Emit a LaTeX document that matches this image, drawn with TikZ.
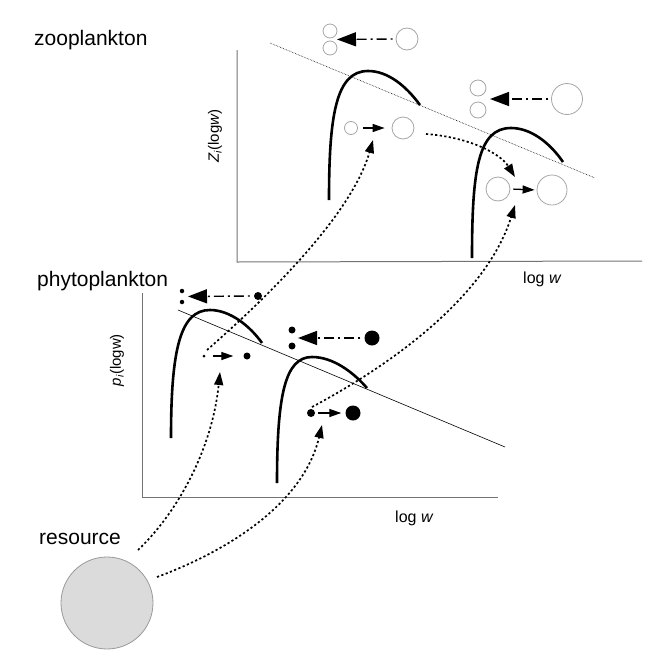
\documentclass[tikz,border=0pt]{standalone}
\usepackage{fontspec}
\setmainfont{Liberation Sans}
\usetikzlibrary{arrows.meta,calc}
\begin{document}
\begin{tikzpicture}[x=1pt,y=-1pt,
  axis/.style={draw=black!55, line width=1pt},
  hump/.style={line width=2.6pt},
  trend/.style={line width=0.6pt},
  zcirc/.style={circle, draw=black!35, fill=white, line width=0.8pt, inner sep=0pt},
  pdot/.style={circle, fill=black, inner sep=0pt},
  feed/.style={line width=1.7pt, dash pattern=on 2.2pt off 2.4pt, -{Triangle[length=13pt,width=9pt]}},
  growarrow/.style={line width=1.3pt, -{Triangle[length=12pt,width=8pt]}},
  repro/.style={line width=1.4pt, dash pattern=on 2pt off 4pt on 10pt off 4pt, -{Triangle[length=19pt,width=14pt]}},
  title/.style={font=\fontsize{21}{25}\selectfont, anchor=base west, inner sep=0pt},
  axlab/.style={font=\fontsize{16}{19}\selectfont, anchor=base west, inner sep=0pt},
  ylab/.style={font=\fontsize{15}{18}\selectfont, rotate=90, inner sep=0pt}
]
\useasboundingbox (0,0) rectangle (654,659);

% ---------------- zooplankton panel ----------------
\node[title] (ztitle) at (34,45) {zooplankton};
\coordinate (zo) at (237,262);
\coordinate (zy) at (237,50);
\coordinate (zx) at (642,261);
\draw[axis] (zy) -- (zo) -- (zx);
\node[axlab] (zxlab) at (523,283) {log {\itshape w}};
\node[ylab] (zylab) at (215,136) {{\itshape Z}\textsubscript{\itshape i}(log{\itshape w})};
\coordinate (zt1) at (270,43);
\coordinate (zt2) at (595,178);
\draw[trend, densely dotted] (zt1) -- (zt2);
\draw[hump] (329,200) .. controls (329,115) and (336,71) .. (368,71)
                      .. controls (388,71) and (406,86) .. (420,105);
\draw[hump] (472,258) .. controls (472,170) and (478,128) .. (511,128)
                      .. controls (531,128) and (550,143) .. (563,162);

% reproduction groups (zoo)
\node[zcirc, minimum size=14pt] (zs1) at (330,31) {};
\node[zcirc, minimum size=14pt] (zs2) at (330,48) {};
\node[zcirc, minimum size=22pt] (zb1) at (407,39) {};
\draw[repro, shorten >=7pt] ([xshift=-3pt]zb1.west) -- ($(zs1)!.5!(zs2)$);

\node[zcirc, minimum size=16pt] (zs3) at (478,88) {};
\node[zcirc, minimum size=16pt] (zs4) at (478,110) {};
\node[zcirc, minimum size=31pt] (zb2) at (567,99) {};
\draw[repro, shorten >=12pt] ([xshift=-3pt]zb2.west) -- ($(zs3)!.5!(zs4)$);

% growth groups (zoo)
\node[zcirc, minimum size=13pt] (zg1) at (351,128) {};
\node[zcirc, minimum size=22pt] (zG1) at (403,128) {};
\draw[growarrow, shorten <=5pt, shorten >=7pt] (zg1.east) -- (zG1.west);

\node[zcirc, minimum size=24pt] (zg2) at (498,189) {};
\node[zcirc, minimum size=30pt] (zG2) at (552,190) {};
\draw[growarrow, shorten <=3pt, shorten >=2pt] (zg2.east) -- (zG2.west);

\coordinate (zf0) at (426,134);
\draw[feed] (zf0) .. controls (468,137) and (500,153) .. (515,177);

% ---------------- phytoplankton panel ----------------
\node[title] (ptitle) at (37,286) {phytoplankton};
\coordinate (po) at (142,497);
\coordinate (py) at (142,293);
\coordinate (px) at (498,497);
\draw[axis] (py) -- (po) -- (px);
\node[axlab] (pxlab) at (395,522) {log {\itshape w}};
\node[ylab] (pylab) at (117,360) {{\itshape p}\textsubscript{\itshape i}(logw)};
\coordinate (pt1) at (178,310);
\coordinate (pt2) at (505,447);
\draw[trend] (pt1) -- (pt2);
\draw[hump] (171,438) .. controls (171,350) and (180,310) .. (210,310)
                      .. controls (230,310) and (250,326) .. (262,343);
\draw[hump] (277,483) .. controls (277,395) and (285,357) .. (312,357)
                      .. controls (333,357) and (353,372) .. (367,388);

% reproduction groups (phyto)
\node[pdot, minimum size=4.5pt] (ps1) at (182,291) {};
\node[pdot, minimum size=4.5pt] (ps2) at (182,302) {};
\node[pdot, minimum size=8pt] (pb1) at (258,296) {};
\draw[repro, shorten >=6pt] ([xshift=-4pt]pb1.west) -- ($(ps1)!.5!(ps2)$);

\node[pdot, minimum size=7pt] (ps3) at (292,330) {};
\node[pdot, minimum size=7pt] (ps4) at (292,346) {};
\node[pdot, minimum size=15pt] (pb2) at (372,338) {};
\draw[repro, shorten >=6pt] ([xshift=-4pt]pb2.west) -- ($(ps3)!.5!(ps4)$);

% growth groups (phyto)
\node[pdot, minimum size=3pt] (pg1) at (204,356) {};
\node[pdot, minimum size=7pt] (pG1) at (247,356) {};
\draw[growarrow, shorten <=7pt, shorten >=10pt] (pg1.east) -- (pG1.west);

\node[pdot, minimum size=8pt] (pg2) at (311,413) {};
\node[pdot, minimum size=15pt] (pG2) at (353,413) {};
\draw[growarrow, shorten <=3pt, shorten >=4pt] (pg2.east) -- (pG2.west);

% feeding: phyto -> zoo
\coordinate (pf1) at (207,350);
\coordinate (pf2) at (312,407);
\draw[feed] (pf1) .. controls (255,308) and (350,220) .. (373,140);
\draw[feed] (pf2) .. controls (385,368) and (485,300) .. (515,205);

% ---------------- resource ----------------
\node[title] (rtitle) at (39,544) {resource};
\node[circle, draw=black!40, fill=black!14, line width=0.8pt, minimum size=92pt, inner sep=0pt] (res) at (107,603) {};
\coordinate (rf1) at (138,550);
\coordinate (rf2) at (157,577);
\draw[feed] (rf1) .. controls (177,513) and (212,450) .. (220,372);
\draw[feed] (rf2) .. controls (225,552) and (303,505) .. (322,425);
\end{tikzpicture}
\end{document}
